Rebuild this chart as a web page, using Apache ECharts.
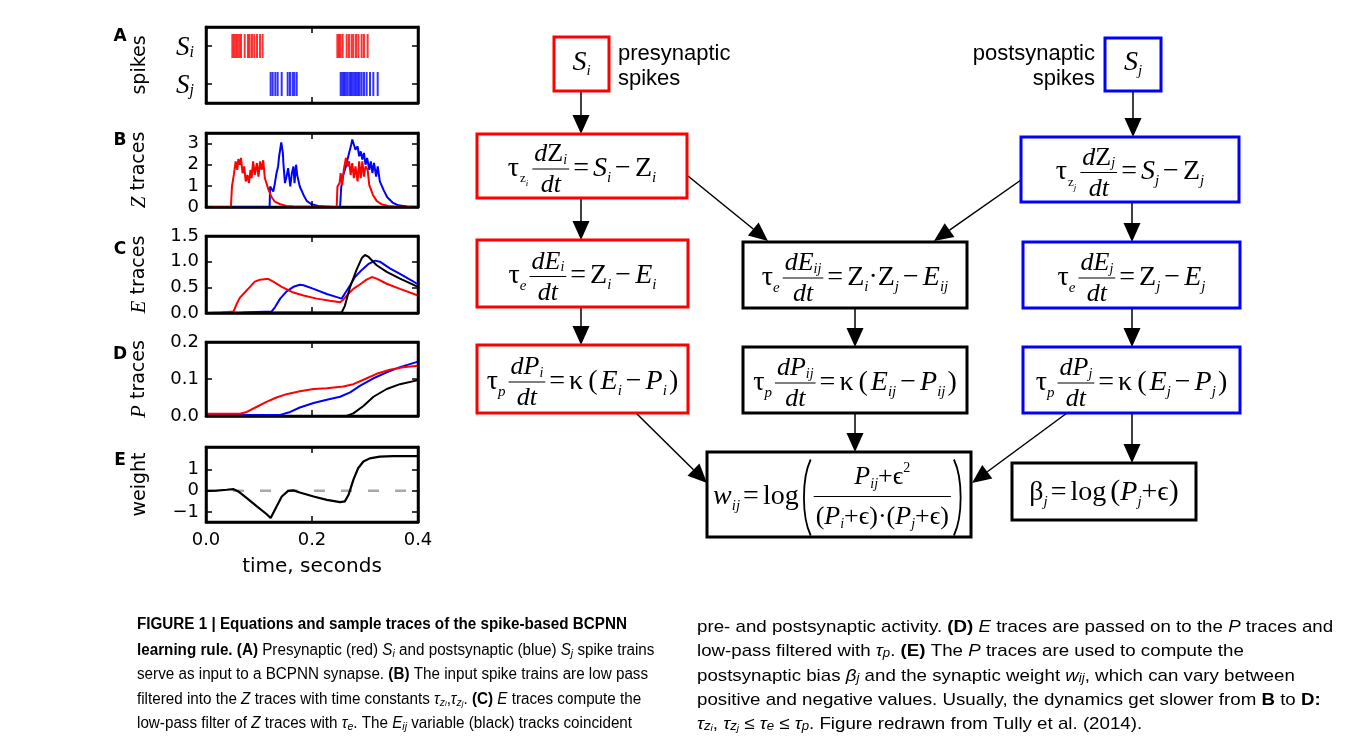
<!DOCTYPE html>
<html><head><meta charset="utf-8">
<script src="https://cdn.jsdelivr.net/npm/echarts@6/dist/echarts.min.js"></script>
<style>html,body{margin:0;padding:0;background:#fff}#c{width:1357px;height:746px}</style>
</head><body><div id="c"></div>
<script>
// ================= DATA =================
const timeTickLabels = [0.0, 0.2, 0.4];
const spikeRows = ['Sj', 'Si'];
const spikesSi = [0.0497,0.0528,0.0566,0.0597,0.0629,0.0660,0.0730,0.0792,0.0824,0.0868,0.0912,0.0962,0.1019,0.1069,
  0.2478,0.2509,0.2541,0.2579,0.2654,0.2698,0.2748,0.2780,0.2830,0.2874,0.2937,0.2981,0.3050];
const spikesSj = [0.1220,0.1258,0.1308,0.1352,0.1428,0.1541,0.1585,0.1635,0.1667,0.1711,
  0.2541,0.2572,0.2604,0.2635,0.2667,0.2704,0.2736,0.2767,0.2799,0.2830,0.2868,0.2899,0.2937,0.2981,0.3031,0.3094,0.3157,0.3239];

const zRed = [[0,0],[0.047,0],[0.049,0.97],[0.052,1.05],[0.053,1.60],[0.056,2.16],[0.059,1.76],[0.061,2.27],[0.064,2.00],[0.066,2.32],[0.069,1.60],[0.072,1.92],[0.075,1.21],[0.078,1.52],[0.081,1.13],[0.084,1.76],[0.086,1.37],[0.089,2.16],[0.092,1.52],[0.096,2.08],[0.099,1.44],[0.102,2.16],[0.105,1.76],[0.108,2.21],[0.111,1.37],[0.118,0.81],[0.124,0.46],[0.130,0.25],[0.140,0.13],[0.152,0.05],[0.165,0.02],[0.2466,0],[0.248,0.97],[0.252,1.13],[0.254,1.60],[0.257,1.05],[0.260,1.76],[0.264,2.32],[0.267,1.92],[0.270,2.16],[0.273,1.52],[0.276,2.08],[0.279,1.37],[0.282,1.92],[0.286,1.21],[0.289,2.16],[0.292,1.37],[0.295,2.16],[0.298,1.44],[0.301,1.92],[0.305,1.76],[0.308,1.05],[0.315,0.57],[0.322,0.29],[0.331,0.13],[0.347,0.03],[0.366,0],[0.4,0]];
const zBlue = [[0,0],[0.120,0],[0.121,0.97],[0.124,1.05],[0.127,0.73],[0.130,1.13],[0.133,1.60],[0.136,1.92],[0.138,2.40],[0.142,3.06],[0.145,2.56],[0.146,2.08],[0.149,1.13],[0.152,1.44],[0.155,1.84],[0.159,0.97],[0.162,1.60],[0.165,1.92],[0.167,1.13],[0.170,2.00],[0.172,1.52],[0.177,0.97],[0.184,0.57],[0.190,0.29],[0.199,0.13],[0.215,0.03],[0.240,0],[0.253,0],[0.255,0.89],[0.258,1.44],[0.261,1.37],[0.264,1.92],[0.267,2.24],[0.270,2.56],[0.274,2.95],[0.276,3.19],[0.279,3.11],[0.282,2.71],[0.286,2.87],[0.289,2.40],[0.292,2.63],[0.295,2.24],[0.298,2.56],[0.301,2.00],[0.304,2.32],[0.308,1.76],[0.311,2.16],[0.314,1.60],[0.317,2.08],[0.321,1.44],[0.324,1.92],[0.328,1.21],[0.335,0.81],[0.342,0.46],[0.352,0.21],[0.363,0.08],[0.379,0.02],[0.4,0]];

const eRed = [[0,0],[0.030,0.01],[0.052,0.03],[0.058,0.18],[0.064,0.30],[0.074,0.41],[0.083,0.51],[0.092,0.61],[0.102,0.65],[0.114,0.66],[0.118,0.66],[0.127,0.61],[0.143,0.51],[0.162,0.41],[0.184,0.34],[0.209,0.28],[0.234,0.24],[0.253,0.21],[0.259,0.26],[0.269,0.38],[0.278,0.47],[0.291,0.56],[0.303,0.65],[0.313,0.70],[0.322,0.67],[0.341,0.57],[0.366,0.47],[0.400,0.34]];
const eBlue = [[0,0],[0.070,0.01],[0.124,0.03],[0.130,0.11],[0.140,0.28],[0.152,0.42],[0.165,0.51],[0.177,0.55],[0.184,0.54],[0.203,0.47],[0.228,0.37],[0.250,0.30],[0.256,0.28],[0.262,0.38],[0.272,0.54],[0.281,0.70],[0.294,0.84],[0.306,0.95],[0.319,1.02],[0.328,1.00],[0.347,0.87],[0.366,0.76],[0.385,0.65],[0.400,0.56]];
const eBlack = [[0,0],[0.140,0.01],[0.256,0.01],[0.262,0.14],[0.272,0.51],[0.284,0.84],[0.294,1.07],[0.300,1.13],[0.306,1.10],[0.322,0.93],[0.341,0.80],[0.366,0.67],[0.400,0.51]];

const pRed = [[0,0.006],[0.064,0.006],[0.077,0.011],[0.096,0.025],[0.114,0.038],[0.133,0.050],[0.152,0.059],[0.177,0.067],[0.203,0.073],[0.228,0.075],[0.259,0.080],[0.278,0.086],[0.297,0.098],[0.322,0.114],[0.347,0.125],[0.372,0.132],[0.400,0.136]];
const pBlue = [[0,0.003],[0.140,0.003],[0.159,0.011],[0.177,0.023],[0.203,0.035],[0.228,0.044],[0.253,0.052],[0.272,0.064],[0.291,0.082],[0.316,0.102],[0.341,0.118],[0.366,0.132],[0.400,0.147]];
const pBlack = [[0,0],[0.265,0],[0.278,0.007],[0.297,0.027],[0.316,0.052],[0.341,0.073],[0.366,0.086],[0.400,0.097]];

const weightTrace = [[0,0],[0.020,0.01],[0.039,0.05],[0.052,0.08],[0.061,-0.03],[0.077,-0.35],[0.096,-0.74],[0.114,-1.10],[0.122,-1.29],[0.130,-0.90],[0.143,-0.27],[0.155,0.00],[0.165,0.02],[0.177,-0.08],[0.203,-0.27],[0.228,-0.43],[0.253,-0.54],[0.262,-0.50],[0.269,-0.19],[0.278,0.52],[0.287,1.07],[0.297,1.39],[0.309,1.54],[0.328,1.62],[0.353,1.65],[0.400,1.65]];
const weightZero = [[0,0],[0.4,0]];

const zTicks = [0, 1, 2, 3];
const eTicks = [0, 0.5, 1.0, 1.5];
const pTicks = [0, 0.1, 0.2];
const wTicks = [-1, 0, 1];

// ================= LAYOUT / STYLE =================
const SANS = '"DejaVu Sans", sans-serif';
const SERIF = '"Liberation Serif","DejaVu Serif",serif';
const RED = '#ff0000', BLUE = '#0000ff', BLK = '#000000';
const panels = [
  {top: 27, height: 76}, {top: 133, height: 74}, {top: 236, height: 77},
  {top: 342, height: 74}, {top: 447, height: 75}
];
const grids = panels.map(p => ({left: 206, width: 212, top: p.top, height: p.height, show: true, borderColor: '#000', borderWidth: 2.5, backgroundColor: '#fff'}));

const axLine = {show: true, onZero: false, lineStyle: {color: '#000', width: 2.5}};
const axTick = {show: true, inside: true, length: 6, lineStyle: {color: '#000', width: 1.5}};
const lblStyle = {color: '#000', fontFamily: SANS, fontSize: 18};
const nameStyle = {color: '#000', fontFamily: SANS, fontSize: 19,
  rich: {it: {fontFamily: SERIF, fontStyle: 'italic', fontSize: 21, color: '#000'}}};

const xAxes = [], yAxes = [];
panels.forEach((p, gi) => {
  const last = gi === panels.length - 1;
  const base = {type: 'value', gridIndex: gi, min: 0, max: 0.4, interval: 0.2, z: 5,
    axisLine: axLine, axisTick: axTick, splitLine: {show: false}};
  xAxes.push(Object.assign({}, base, {position: 'bottom',
    axisLabel: {show: last, margin: 9, formatter: v => v.toFixed(1), customValues: timeTickLabels, ...lblStyle},
    name: last ? 'time, seconds' : '', nameLocation: 'middle', nameGap: 35,
    nameTextStyle: {color: '#000', fontFamily: SANS, fontSize: 20}}));
  xAxes.push(Object.assign({}, base, {position: 'top', axisLabel: {show: false}}));
});

function valueY(gi, min, max, ticks, fmt, name) {
  const common = {type: 'value', gridIndex: gi, min, max, z: 5, axisLine: axLine, splitLine: {show: false},
    axisTick: Object.assign({}, axTick, {customValues: ticks})};
  return [
    Object.assign({}, common, {position: 'left',
      axisLabel: Object.assign({margin: 7, formatter: fmt, customValues: ticks}, lblStyle),
      name, nameLocation: 'middle', nameGap: 56, nameTextStyle: nameStyle}),
    Object.assign({}, common, {position: 'right', axisLabel: {show: false}})
  ];
}
const catCommon = {type: 'category', gridIndex: 0, data: spikeRows, boundaryGap: true, z: 5,
  axisLine: axLine, splitLine: {show: false},
  axisTick: Object.assign({}, axTick, {alignWithLabel: true, interval: 0})};
yAxes.push(Object.assign({}, catCommon, {position: 'left',
  axisLabel: {margin: 12, formatter: v => v === 'Si' ? '{s|S}{b|i}' : '{s|S}{b|j}',
    rich: {s: {fontFamily: SERIF, fontStyle: 'italic', fontSize: 27, lineHeight: 30, verticalAlign: 'bottom', color: '#000'},
           b: {fontFamily: SERIF, fontStyle: 'italic', fontSize: 16, lineHeight: 12, verticalAlign: 'bottom', color: '#000'}}},
  name: 'spikes', nameLocation: 'middle', nameGap: 56, nameTextStyle: nameStyle}));
yAxes.push(Object.assign({}, catCommon, {position: 'right', axisLabel: {show: false}}));
yAxes.push(...valueY(1, 0, 3.5, zTicks, v => String(v), '{it|Z} traces'));
yAxes.push(...valueY(2, 0, 1.5, eTicks, v => v.toFixed(1), '{it|E} traces'));
yAxes.push(...valueY(3, 0, 0.2, pTicks, v => v.toFixed(1), '{it|P} traces'));
yAxes.push(...valueY(4, -1.48, 2.08, wTicks, v => v < 0 ? '\u2212' + Math.abs(v) : String(v), 'weight'));

function line(gi, data, color, extra) {
  return Object.assign({type: 'line', xAxisIndex: gi * 2, yAxisIndex: gi * 2, data, showSymbol: false, symbol: 'none',
    lineStyle: {color, width: 2}, itemStyle: {color}, silent: true, animation: false}, extra || {});
}
const series = [
  {type: 'scatter', xAxisIndex: 0, yAxisIndex: 0, data: spikesSi.map(t => [t, 'Si']), symbol: 'rect', symbolSize: [2, 24], itemStyle: {color: RED}, silent: true},
  {type: 'scatter', xAxisIndex: 0, yAxisIndex: 0, data: spikesSj.map(t => [t, 'Sj']), symbol: 'rect', symbolSize: [2, 24], itemStyle: {color: BLUE}, silent: true},
  line(1, zBlue, BLUE), line(1, zRed, RED),
  line(2, eBlue, BLUE), line(2, eRed, RED), line(2, eBlack, BLK),
  line(3, pBlue, BLUE), line(3, pRed, RED), line(3, pBlack, BLK),
  line(4, weightZero, '#a8a8a8', {lineStyle: {color: '#a8a8a8', width: 2.5, type: [11, 16]}}),
  line(4, weightTrace, BLK, {lineStyle: {color: BLK, width: 2.2}})
];

// ================= DIAGRAM (graphic) =================
const mc = document.createElement('canvas').getContext('2d');
function fnt(sz, it) { return (it ? 'italic ' : '') + sz + 'px ' + SERIF; }
function tw(t, font) { mc.font = font; return mc.measureText(t).width; }
const MS = 28, FS = 26, SS = 15;
const R = (t, sz) => ({t, sz: sz || MS, it: false, dy: 0});
const I = (t, sz) => ({t, sz: sz || MS, it: true, dy: 0});
const SB = (t, dy, sz, up) => ({t, sz: sz || SS, it: !up, dy: dy == null ? 5 : dy});
const G = w => ({gap: w});
const FR = (num, den, o) => ({num, den, o: o || {}});
const PAR = (ch, h) => ({paren: ch, h});
const EQ = [G(3), R('='), G(4)];
const MI = [G(4), R('−'), G(4)];

function lay(tokens, x0, base, out) {
  let x = x0;
  tokens.forEach(tk => {
    if (tk.gap != null) { x += tk.gap; return; }
    if (tk.num) {
      const wN = lay(tk.num, 0, 0, null), wD = lay(tk.den, 0, 0, null);
      const w = Math.max(wN, wD) + 4;
      const bar = base - (tk.o.axis || 9);
      if (out) {
        lay(tk.num, x + (w - wN) / 2, bar - (tk.o.nu || 6), out);
        lay(tk.den, x + (w - wD) / 2, bar + (tk.o.de || 25), out);
        out.push({type: 'line', shape: {x1: x, y1: bar, x2: x + w, y2: bar}, style: {stroke: '#000', lineWidth: 1.2}});
      }
      x += w + 1; return;
    }
    if (tk.paren) {
      const cy = base - 9, top = cy - tk.h / 2, bot = cy + tk.h / 2;
      if (out) {
        const l = tk.paren === '(';
        const xo = l ? x + 10 : x + 2, xi = l ? x + 1 : x + 11;
        out.push({type: 'bezierCurve', shape: {x1: xo, y1: top, cpx1: xi, cpy1: top + tk.h * 0.25, cpx2: xi, cpy2: bot - tk.h * 0.25, x2: xo, y2: bot},
          style: {stroke: '#000', lineWidth: 1.8, fill: 'none'}});
      }
      x += 13; return;
    }
    const f = fnt(tk.sz, tk.it);
    if (out) out.push({type: 'text', x: x, y: base + tk.dy - 0.335 * tk.sz,
      style: {text: tk.t, font: f, fill: '#000', align: 'left', verticalAlign: 'middle', textAlign: 'left', textVerticalAlign: 'middle'}});
    x += tw(tk.t, f);
  });
  return x - x0;
}
function eq(tokens, cx, base) {
  const w = lay(tokens, 0, 0, null); const out = [];
  lay(tokens, cx - w / 2, base, out); return out;
}
function box(x, y, w, h, c) {
  return {type: 'rect', shape: {x, y, width: w, height: h}, style: {fill: '#fff', stroke: c, lineWidth: 3}};
}
function arrow(x1, y1, x2, y2) {
  const dx = x2 - x1, dy = y2 - y1, L = Math.hypot(dx, dy), ux = dx / L, uy = dy / L, hl = 19, hw = 8.5;
  const bx = x2 - ux * hl, by = y2 - uy * hl;
  return [
    {type: 'line', shape: {x1, y1, x2: bx, y2: by}, style: {stroke: '#000', lineWidth: 1.5}},
    {type: 'polygon', shape: {points: [[x2, y2], [bx - uy * hw, by + ux * hw], [bx + uy * hw, by - ux * hw]]}, style: {fill: '#000'}}
  ];
}
const tauZ = s => [R('τ'), G(1), SB('z', 5, 13, true), SB(s, 9, 9), G(4)];
const dfrac = (v, s, vit) => FR([I('d', FS), vit ? I(v, FS) : R(v, FS), SB(s, 2, 14)], [I('dt', FS)]);

const eqZi = [...tauZ('i'), dfrac('Z', 'i'), ...EQ, I('S'), SB('i'), ...MI, R('Z'), SB('i')];
const eqZj = [...tauZ('j'), dfrac('Z', 'j'), ...EQ, I('S'), SB('j'), ...MI, R('Z'), SB('j')];
const eqEi = [R('τ'), SB('e', 6), G(3), dfrac('E', 'i', true), ...EQ, R('Z'), SB('i'), ...MI, I('E'), SB('i')];
const eqEij = [R('τ'), SB('e', 6), G(3), dfrac('E', 'ij', true), ...EQ, R('Z'), SB('i'), R('·'), R('Z'), SB('j'), ...MI, I('E'), SB('ij')];
const eqEj = [R('τ'), SB('e', 6), G(3), dfrac('E', 'j', true), ...EQ, R('Z'), SB('j'), ...MI, I('E'), SB('j')];
const eqPi = [R('τ'), SB('p', 6), G(3), dfrac('P', 'i', true), ...EQ, R('κ'), G(5), R('('), G(3), I('E'), SB('i'), ...MI, I('P'), SB('i'), G(2), R(')')];
const eqPij = [R('τ'), SB('p', 6), G(3), dfrac('P', 'ij', true), ...EQ, R('κ'), G(5), R('('), G(3), I('E'), SB('ij'), ...MI, I('P'), SB('ij'), G(2), R(')')];
const eqPj = [R('τ'), SB('p', 6), G(3), dfrac('P', 'j', true), ...EQ, R('κ'), G(5), R('('), G(3), I('E'), SB('j'), ...MI, I('P'), SB('j'), G(2), R(')')];
const eqW = [I('w'), SB('ij'), ...EQ, R('log'), G(2), PAR('(', 76),
  FR([I('P', FS), SB('ij', 4, 14), R('+', FS), R('ϵ', FS), SB('2', -12, 14, true)],
     [R('(', FS), I('P', FS), SB('i', 4, 14), R('+', FS), R('ϵ', FS), R(')', FS), R('·', FS), R('(', FS), I('P', FS), SB('j', 4, 14), R('+', FS), R('ϵ', FS), R(')', FS)],
     {axis: 10, nu: 11, de: 29}),
  PAR(')', 76)];
const eqB = [R('β'), SB('j'), ...EQ, R('log'), G(4), R('(', 30), I('P'), SB('j'), R('+'), R('ϵ'), R(')', 30)];

const G_EL = [];
// panel letters
[['A', 37], ['B', 141], ['C', 250], ['D', 355], ['E', 461]].forEach(([t, y]) =>
  G_EL.push({type: 'text', x: 120, y, style: {text: t, font: 'bold 17px ' + SANS, fill: '#000', align: 'center', verticalAlign: 'middle', textAlign: 'center', textVerticalAlign: 'middle'}}));

// arrows (drawn first so boxes sit on top)
[[581, 91, 581, 134], [1133, 91, 1133, 137], [581, 198, 581, 240], [1132, 202, 1132, 242],
 [688, 176, 768, 241], [1021, 180, 934, 241],
 [581, 307, 581, 345], [855, 308, 855, 347], [1132, 308, 1132, 347],
 [636, 413, 707, 483], [855, 413, 855, 452], [1067, 413, 972, 483], [1132, 413, 1132, 463]
].forEach(a => G_EL.push(...arrow(...a)));

const boxes = [
  [554, 37, 55, 54, RED, [I('S', 28), SB('i', 4, 15)], 8],
  [1105, 38, 56, 53, BLUE, [I('S', 28), SB('j', 4, 15)], 8],
  [477, 134, 210, 64, RED, eqZi, 12],
  [1021, 137, 218, 65, BLUE, eqZj, 12],
  [477, 240, 211, 67, RED, eqEi, 12],
  [743, 242, 224, 66, BLK, eqEij, 12],
  [1023, 242, 217, 66, BLUE, eqEj, 12],
  [477, 345, 211, 68, RED, eqPi, 12],
  [743, 347, 224, 66, BLK, eqPij, 12],
  [1023, 347, 217, 66, BLUE, eqPj, 12],
  [707, 452, 264, 85, BLK, eqW, 12],
  [1012, 463, 184, 57, BLK, eqB, 11]
];
boxes.forEach(([x, y, w, h, c, tokens, off]) => {
  G_EL.push(box(x, y, w, h, c));
  G_EL.push(...eq(tokens, x + w / 2, y + h / 2 + off));
});
G_EL.push({type: 'text', x: 618, y: 41, style: {text: 'presynaptic\nspikes', font: '22px "Liberation Sans", Arial, sans-serif', lineHeight: 25, fill: '#000', align: 'left', verticalAlign: 'top', textAlign: 'left', textVerticalAlign: 'top'}});
G_EL.push({type: 'text', x: 1095, y: 41, style: {text: 'postsynaptic\nspikes', font: '22px "Liberation Sans", Arial, sans-serif', lineHeight: 25, fill: '#000', align: 'right', verticalAlign: 'top', textAlign: 'right', textVerticalAlign: 'top'}});

// ================= CAPTION =================
const CAP = '"Liberation Sans", Arial, sans-serif';
const CC = '#231f20';
function capStylesFor(fs) {
  return {
    n: {fontFamily: CAP, fontSize: fs, color: CC, lineHeight: 20, verticalAlign: 'bottom'},
    b: {fontFamily: CAP, fontSize: fs, fontWeight: 'bold', color: CC, lineHeight: 20, verticalAlign: 'bottom'},
    i: {fontFamily: CAP, fontSize: fs, fontStyle: 'italic', color: CC, lineHeight: 20, verticalAlign: 'bottom'},
    sub: {fontFamily: CAP, fontSize: Math.round(fs * 0.7), fontStyle: 'italic', color: CC, lineHeight: 11, verticalAlign: 'bottom'},
    ss: {fontFamily: CAP, fontSize: Math.round(fs * 0.5), fontStyle: 'italic', color: CC, lineHeight: 7, verticalAlign: 'bottom'},
    g: {fontFamily: CAP, fontSize: fs, color: '#8c8c8c', lineHeight: 20, verticalAlign: 'bottom'}
  };
}
const capFont = (st, k) => { const s = st[k]; return (s.fontStyle ? 'italic ' : '') + (s.fontWeight ? 'bold ' : '') + s.fontSize + 'px ' + CAP; };
const capLeft = [
  [['b', 'FIGURE 1 | Equations and sample traces of the spike-based BCPNN']],
  [['b', 'learning rule. (A)'], ['n', ' Presynaptic (red) '], ['i', 'S'], ['sub', 'i'], ['n', ' and postsynaptic (blue) '], ['i', 'S'], ['sub', 'j'], ['n', ' spike trains']],
  [['n', 'serve as input to a BCPNN synapse. '], ['b', '(B)'], ['n', ' The input spike trains are low pass']],
  [['n', 'filtered into the '], ['i', 'Z'], ['n', ' traces with time constants '], ['i', 'τ'], ['sub', 'z'], ['ss', 'i'], ['n', ','], ['i', 'τ'], ['sub', 'z'], ['ss', 'j'], ['n', '. '], ['b', '(C)'], ['n', ' '], ['i', 'E'], ['n', ' traces compute the']],
  [['n', 'low-pass filter of '], ['i', 'Z'], ['n', ' traces with '], ['i', 'τ'], ['sub', 'e'], ['n', '. The '], ['i', 'E'], ['sub', 'ij'], ['n', ' variable (black) tracks coincident']]
];
const capRight = [
  [['n', 'pre- and postsynaptic activity. '], ['b', '(D)'], ['n', ' '], ['i', 'E'], ['n', ' traces are passed on to the '], ['i', 'P'], ['n', ' traces and']],
  [['n', 'low-pass filtered with '], ['i', 'τ'], ['sub', 'p'], ['n', '. '], ['b', '(E)'], ['n', ' The '], ['i', 'P'], ['n', ' traces are used to compute the']],
  [['n', 'postsynaptic bias '], ['i', 'β'], ['sub', 'j'], ['n', ' and the synaptic weight '], ['i', 'w'], ['sub', 'ij'], ['n', ', which can vary between']],
  [['n', 'positive and negative values. Usually, the dynamics get slower from '], ['b', 'B'], ['n', ' to '], ['b', 'D:']],
  [['i', 'τ'], ['sub', 'z'], ['ss', 'i'], ['n', ', '], ['i', 'τ'], ['sub', 'z'], ['ss', 'j'], ['n', ' ≤ '], ['i', 'τ'], ['sub', 'e'], ['n', ' ≤ '], ['i', 'τ'], ['sub', 'p'], ['n', '. Figure redrawn from '], ['g', 'Tully et al. (2014)'], ['n', '.']]
];
const richStr = line => line.map(([k, t]) => '{' + k + '|' + t + '}').join('');
function capCol(lines, x, ys, targets, fs) {
  const st = capStylesFor(fs);
  const segW = line => line.reduce((s, [k, t]) => s + tw(t, capFont(st, k)), 0);
  let num = 0, den = 0;
  lines.forEach((ln, i) => { if (targets[i]) { const w = segW(ln); num += w * targets[i]; den += w * w; } });
  const sc = num / den;
  lines.forEach((ln, i) => G_EL.push({type: 'text', x, y: ys[i], scaleX: sc, originX: 0, originY: 0,
    style: {text: richStr(ln), rich: st, align: 'left', verticalAlign: 'middle', textAlign: 'left', textVerticalAlign: 'middle'}}));
}
capCol(capLeft, 137, [623, 649, 673, 698, 722], [483, 520, 510, 529, 475], 16);
capCol(capRight, 697, [626, 650, 675, 699, 723], [636, 0, 592, 626, 450], 17);

const chart = echarts.init(document.getElementById('c'), null, {renderer: 'canvas', width: 1357, height: 746});
chart.setOption({
  animation: false,
  backgroundColor: '#fff',
  grid: grids,
  xAxis: xAxes,
  yAxis: yAxes,
  series,
  graphic: {elements: G_EL}
});
</script></body></html>
